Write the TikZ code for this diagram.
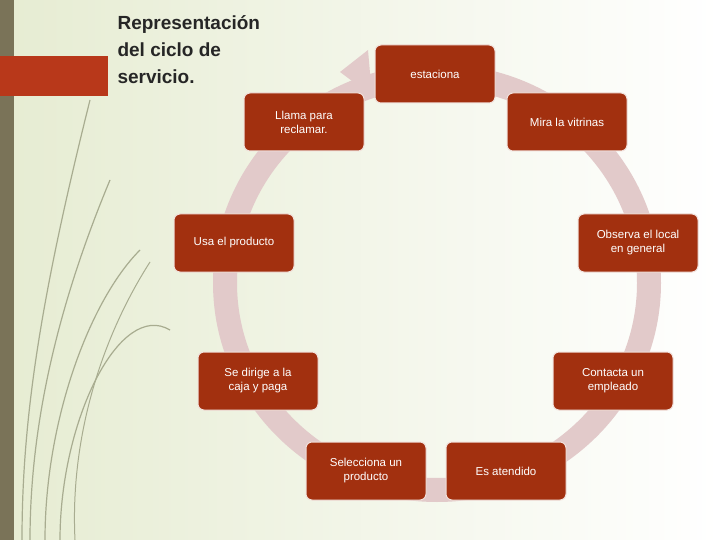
\documentclass[tikz,border=0pt]{standalone}
\usepackage{fontspec}
\setmainfont{Liberation Sans}
\definecolor{bgA}{HTML}{E6ECD2}
\definecolor{bgB}{HTML}{FFFFFF}
\definecolor{strip}{HTML}{7A7358}
\definecolor{redbar}{HTML}{B8381A}
\definecolor{boxred}{HTML}{A2300F}
\definecolor{ring}{HTML}{E2CACA}
\definecolor{deco}{HTML}{A8AC90}
\tikzset{cyc/.style={draw=white!85!boxred,line width=1pt,fill=boxred,rounded corners=6pt,minimum width=120pt,minimum height=58pt,text=white,font=\fontsize{11.5}{14}\selectfont,align=center,inner sep=2pt}}
\begin{document}
\begin{tikzpicture}[x=1pt,y=-1pt]
\useasboundingbox (0,0) rectangle (720,540);
\shade[left color=bgA,right color=bgB] (0,0) rectangle (720,540);
\fill[strip] (0,0) rectangle (14,540);
\fill[redbar] (0,56) rectangle (108,96);
\foreach \a/\b/\c in {22/40/100,30/60/180,45/90/250,60/120/330}{
 \draw[deco,line width=1.2pt] (\a,540) .. controls (\a,420) and (\b,300) .. (\b+50,\c);}
\draw[deco,line width=1pt] (75,540) .. controls (70,440) and (100,340) .. (150,262);
\node[anchor=north west,align=left,font=\bfseries\fontsize{19}{27}\selectfont,text=black!85] (title) at (114,12) {Representación\\del ciclo de\\servicio.};
\draw[ring,line width=24pt] (437,283) ellipse (212 and 207);
\fill[ring] (340,72) -- (368,50) -- (372,96) -- cycle;
\node[cyc] (a) at (435,74) {estaciona};
\node[cyc] (b) at (567,122) {Mira la vitrinas};
\node[cyc] (c) at (638,243) {Observa el local\\en general};
\node[cyc] (d) at (613,381) {Contacta un\\empleado};
\node[cyc] (e) at (506,471) {Es atendido};
\node[cyc] (f) at (366,471) {Selecciona un\\producto};
\node[cyc] (g) at (258,381) {Se dirige a la\\caja y paga};
\node[cyc] (h) at (234,243) {Usa el producto};
\node[cyc] (i) at (304,122) {Llama para\\reclamar.};
\end{tikzpicture}
\end{document}
